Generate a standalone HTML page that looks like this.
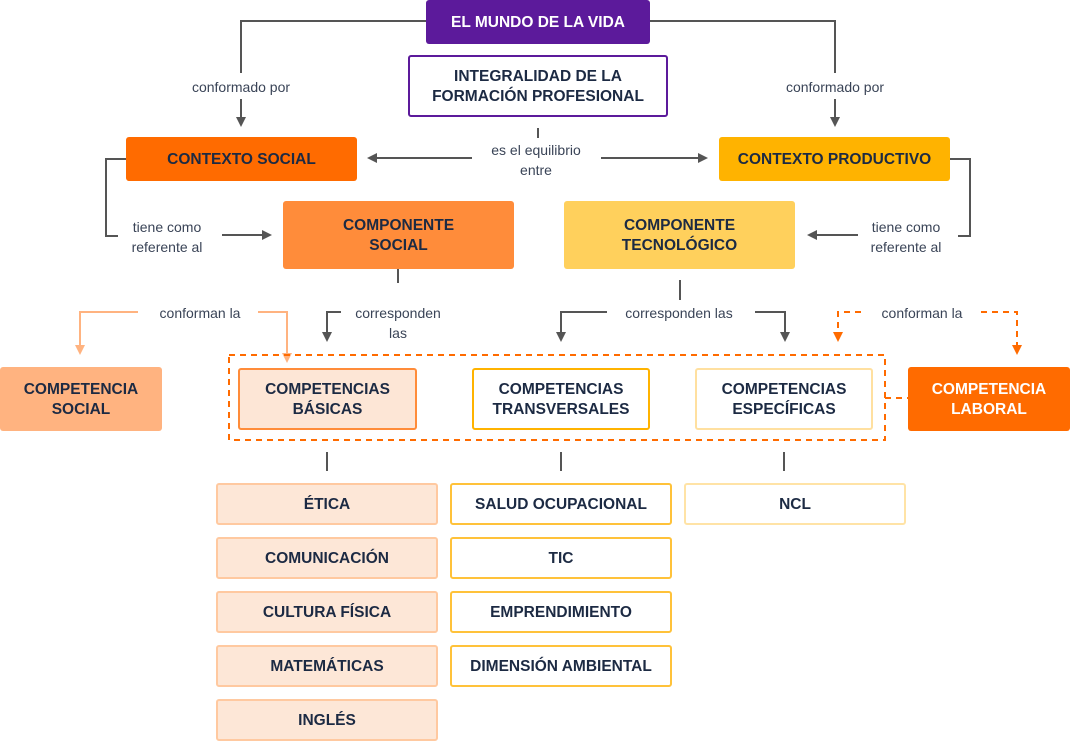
<!DOCTYPE html>
<html><head><meta charset="utf-8"><style>
body{margin:0;width:1070px;height:742px;background:#fff;position:relative;overflow:hidden;font-family:"Liberation Sans",sans-serif;}
.b{position:absolute;box-sizing:border-box;display:flex;align-items:center;justify-content:center;text-align:center;font-weight:bold;font-size:15.5px;line-height:20px;color:#1c2a43;border-radius:3px;padding-top:1px;}
.l{position:absolute;font-size:14px;color:#3a4457;text-align:center;line-height:20px;transform:translateX(-50%);white-space:nowrap;}
.li{border:2px solid #ffc9a0;background:#fde7d7;}
.lt{border:2px solid #ffc23a;background:#fff;}
.ls{border:2px solid #ffe3a6;background:#fff;}
svg{position:absolute;left:0;top:0;}
</style></head><body>
<svg width="1070" height="742">
<defs>
<marker id="g" markerWidth="10" markerHeight="10" refX="5" refY="5" orient="auto" markerUnits="userSpaceOnUse"><path d="M0,0L10,5L0,10z" fill="#555"/></marker>
<marker id="o" markerWidth="10" markerHeight="10" refX="5" refY="5" orient="auto" markerUnits="userSpaceOnUse"><path d="M0,0L10,5L0,10z" fill="#ffb380"/></marker>
<marker id="r" markerWidth="10" markerHeight="10" refX="5" refY="5" orient="auto" markerUnits="userSpaceOnUse"><path d="M0,0L10,5L0,10z" fill="#ff6b00"/></marker>
</defs>
<g stroke="#555" stroke-width="2" fill="none">
<path d="M426,21H241V73"/><path d="M241,99V122" marker-end="url(#g)"/>
<path d="M650,21H835V73"/><path d="M835,99V122" marker-end="url(#g)"/>
<path d="M538,128V138"/>
<path d="M472,158H372" marker-end="url(#g)"/><path d="M601,158H703" marker-end="url(#g)"/>
<path d="M126,159H106V236H118"/><path d="M222,235H267" marker-end="url(#g)"/>
<path d="M950,159H970V236H958"/><path d="M858,235H812" marker-end="url(#g)"/>
<path d="M398,269V283"/><path d="M341,312H327V337" marker-end="url(#g)"/>
<path d="M680,280V300"/><path d="M607,312H561V337" marker-end="url(#g)"/><path d="M755,312H785V337" marker-end="url(#g)"/>
<path d="M327,452V471M561,452V471M784,452V471"/>
</g>
<g stroke="#ffb380" stroke-width="2" fill="none">
<path d="M138,312H80V350" marker-end="url(#o)"/><path d="M258,312H287V358" marker-end="url(#o)"/>
</g>
<g stroke="#ff6b00" stroke-width="2" fill="none" stroke-dasharray="6,5">
<path d="M861,312H838V337" marker-end="url(#r)"/><path d="M981,312H1017V350" marker-end="url(#r)"/>
<rect x="229" y="355" width="656" height="85"/><path d="M885,398H908"/>
</g>
</svg>
<div class="b" style="left:426px;top:0;width:224px;height:44px;background:#5c1a9b;color:#fff;">EL MUNDO DE LA VIDA</div>
<div class="b" style="left:408px;top:55px;width:260px;height:62px;border:2px solid #5c1a9b;background:#fff;">INTEGRALIDAD DE LA<br>FORMACIÓN PROFESIONAL</div>
<div class="b" style="left:126px;top:137px;width:231px;height:44px;background:#ff6b00;">CONTEXTO SOCIAL</div>
<div class="b" style="left:719px;top:137px;width:231px;height:44px;background:#ffb300;">CONTEXTO PRODUCTIVO</div>
<div class="b" style="left:283px;top:201px;width:231px;height:68px;background:#ff8c3a;">COMPONENTE<br>SOCIAL</div>
<div class="b" style="left:564px;top:201px;width:231px;height:68px;background:#ffd05c;">COMPONENTE<br>TECNOLÓGICO</div>
<div class="b" style="left:0;top:367px;width:162px;height:64px;background:#ffb380;">COMPETENCIA<br>SOCIAL</div>
<div class="b" style="left:238px;top:368px;width:179px;height:62px;background:#fde6d6;border:2px solid #ff8c3a;">COMPETENCIAS<br>BÁSICAS</div>
<div class="b" style="left:472px;top:368px;width:178px;height:62px;background:#fff;border:2px solid #ffb300;">COMPETENCIAS<br>TRANSVERSALES</div>
<div class="b" style="left:695px;top:368px;width:178px;height:62px;background:#fff;border:2px solid #ffe0a0;">COMPETENCIAS<br>ESPECÍFICAS</div>
<div class="b" style="left:908px;top:367px;width:162px;height:64px;background:#ff6b00;color:#fff;">COMPETENCIA<br>LABORAL</div>
<div class="b li" style="left:216px;top:483px;width:222px;height:42px;">ÉTICA</div>
<div class="b li" style="left:216px;top:537px;width:222px;height:42px;">COMUNICACIÓN</div>
<div class="b li" style="left:216px;top:591px;width:222px;height:42px;">CULTURA FÍSICA</div>
<div class="b li" style="left:216px;top:645px;width:222px;height:42px;">MATEMÁTICAS</div>
<div class="b li" style="left:216px;top:699px;width:222px;height:42px;">INGLÉS</div>
<div class="b lt" style="left:450px;top:483px;width:222px;height:42px;">SALUD OCUPACIONAL</div>
<div class="b lt" style="left:450px;top:537px;width:222px;height:42px;">TIC</div>
<div class="b lt" style="left:450px;top:591px;width:222px;height:42px;">EMPRENDIMIENTO</div>
<div class="b lt" style="left:450px;top:645px;width:222px;height:42px;">DIMENSIÓN AMBIENTAL</div>
<div class="b ls" style="left:684px;top:483px;width:222px;height:42px;">NCL</div>
<div class="l" style="left:241px;top:77px;">conformado por</div>
<div class="l" style="left:835px;top:77px;">conformado por</div>
<div class="l" style="left:536px;top:140px;">es el equilibrio<br>entre</div>
<div class="l" style="left:167px;top:217px;">tiene como<br>referente al</div>
<div class="l" style="left:906px;top:217px;">tiene como<br>referente al</div>
<div class="l" style="left:200px;top:303px;">conforman la</div>
<div class="l" style="left:398px;top:303px;">corresponden<br>las</div>
<div class="l" style="left:679px;top:303px;">corresponden las</div>
<div class="l" style="left:922px;top:303px;">conforman la</div>
</body></html>
